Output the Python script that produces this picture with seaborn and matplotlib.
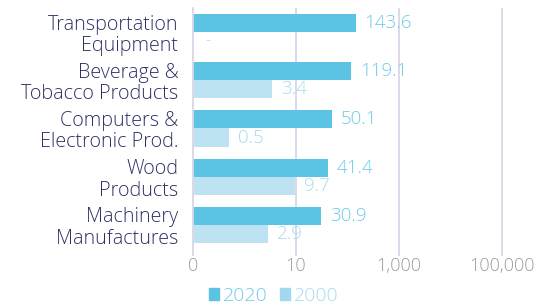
import numpy as np
import pandas as pd
import matplotlib
matplotlib.use("Agg")
import matplotlib.pyplot as plt
import seaborn as sns
from matplotlib.patches import Patch

sns.set_style("white")
plt.rcParams["font.family"] = ["Open Sans", "DejaVu Sans"]
plt.rcParams["font.weight"] = "light"

# data
categories = ["Transportation\nEquipment", "Beverage &\nTobacco Products",
              "Computers &\nElectronic Prod.", "Wood\nProducts",
              "Machinery\nManufactures"]
years = ["2020", "2000"]
v2020 = [143.6, 119.1, 50.1, 41.4, 30.9]
v2000 = [np.nan, 3.4, 0.5, 9.7, 2.9]
tick_vals = [0.1, 10, 1000, 100000]
tick_labels = ["0", "10", "1,000", "100,000"]

bar_cols = {"2020": "#5bc3e4", "2000": "#bde3f3"}
txt_cols = {"2020": "#6ccbea", "2000": "#a6dbef"}
grid_col = "#d9d6e6"
navy = "#2e3165"

df = pd.DataFrame({
    "category": categories * 2,
    "year": ["2020"] * 5 + ["2000"] * 5,
    "value": v2020 + v2000,
})

fig = plt.figure(figsize=(5.35, 3.04), dpi=100)
ax = fig.add_axes([193 / 535, 1 - 249 / 304, (530 - 193) / 535, 241 / 304])

sns.barplot(data=df, y="category", x="value", hue="year", hue_order=years,
            orient="h", palette=bar_cols, width=0.75, saturation=1,
            linewidth=0, legend=False, ax=ax)

ax.set_xscale("log")
x_right = 10 ** (-1 + (530 - 193) / 51.5)
ax.set_xlim(0.1, x_right)
ax.set_ylim(4.5, -0.5)
ax.set_xticks(tick_vals)
ax.set_xticklabels(tick_labels)
ax.xaxis.set_minor_locator(matplotlib.ticker.NullLocator())
ax.set_xlabel("")
ax.set_ylabel("")

for v in tick_vals[1:]:
    ax.axvline(v, color=grid_col, lw=1.3, zorder=0)

for s in ["top", "right", "bottom"]:
    ax.spines[s].set_visible(False)
ax.spines["left"].set_color(grid_col)
ax.spines["left"].set_linewidth(1.3)

ax.tick_params(axis="x", length=5, width=1.3, color=grid_col, pad=0.5,
               labelsize=13, labelcolor="#9b9b9b", direction="out",
               bottom=True)
ax.tick_params(axis="y", length=0, pad=10.5, labelsize=14.2, labelcolor=navy)
for lab in ax.get_yticklabels():
    lab.set_linespacing(1.1)

# value labels (seaborn drops the missing bar, so read values off the bars)
for cont, yr in zip(ax.containers, years):
    for bar in cont:
        w = bar.get_width()
        yc = bar.get_y() + bar.get_height() / 2
        ax.annotate(f"{w:.1f}", (w, yc), xytext=(9, 0),
                    textcoords="offset pixels", ha="left", va="center",
                    color=txt_cols[yr], fontsize=13.5)

# missing 2000 value for the first category
first = ax.containers[0][0]
yc = first.get_y() + first.get_height() * 1.5
ax.annotate("-", (0.1, yc), xytext=(12, 0), textcoords="offset pixels",
            ha="left", va="center", color=txt_cols["2000"], fontsize=11)

handles = [Patch(color=bar_cols["2020"]), Patch(color="#9fd8ef")]
leg = fig.legend(handles, years, loc="center left",
                 bbox_to_anchor=(199 / 535, 1 - 296 / 304), ncol=2,
                 frameon=False, fontsize=14, handlelength=0.55, handleheight=0.55,
                 handletextpad=0.2, columnspacing=0.6, borderpad=0)
for t, yr in zip(leg.get_texts(), years):
    t.set_color(txt_cols[yr])

fig.savefig("out.png", dpi=100)
